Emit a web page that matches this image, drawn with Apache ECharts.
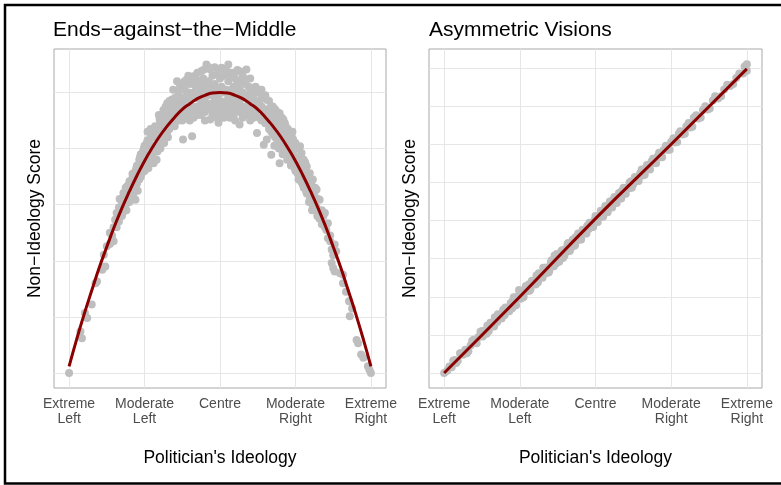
<!DOCTYPE html>
<html>
<head>
<meta charset="utf-8">
<script src="https://cdn.jsdelivr.net/npm/echarts@6/dist/echarts.min.js"></script>
<style>html,body{margin:0;padding:0;background:#fff;}#c{width:781px;height:485px;}</style>
</head>
<body>
<div id="c"></div>
<script>
const panelTitles = ['Ends\u2212against\u2212the\u2212Middle', 'Asymmetric Visions'];
const xAxisName = "Politician's Ideology";
const yAxisName = 'Non\u2212Ideology Score';
const tickValues = [-2, -1, 0, 1, 2];
const tickLabels = ['Extreme\nLeft', 'Moderate\nLeft', 'Centre', 'Moderate\nRight', 'Extreme\nRight'];
const leftGridY = [0, 1, 2, 3, 4, 5];
const rightGridY = [0, 1, 2, 3, 4, 5, 6, 7, 8];

const leftPoints = [
[-2.0,0.0],[-1.85,0.74],[-1.83,0.62],[-1.79,1.07],[-1.76,0.98],[-1.7,1.22],[-1.65,1.6],[-1.63,1.63],[-1.56,1.84],[-1.54,2.11],[-1.52,1.9],[-1.5,2.26],[-1.46,2.5],[-1.46,2.3],[-1.43,2.45],[-1.41,2.35],[-1.41,2.6],[-1.39,2.73],[-1.37,2.85],[-1.37,2.6],[-1.34,2.7],[-1.34,2.95],[-1.32,2.95],[-1.3,3.05],[-1.3,2.8],[-1.28,3.21],[-1.28,3.0],[-1.27,3.2],[-1.25,3.3],[-1.25,3.0],[-1.23,3.33],[-1.22,3.1],[-1.2,3.42],[-1.2,3.2],[-1.2,3.05],[-1.17,3.45],[-1.17,3.25],[-1.15,3.15],[-1.15,3.5],[-1.15,3.35],[-1.12,3.09],[-1.12,3.6],[-1.12,3.4],[-1.1,3.56],[-1.1,3.7],[-1.1,3.38],[-1.07,3.62],[-1.07,3.8],[-1.07,3.45],[-1.05,3.5],[-1.05,3.75],[-1.05,3.9],[-1.02,3.6],[-1.02,3.85],[-1.02,3.95],[-1.0,3.74],[-1.0,3.6],[-1.0,3.95],[-1.0,4.05],[-0.97,3.86],[-0.97,3.7],[-0.97,4.1],[-0.96,4.3],[-0.95,4.04],[-0.95,3.8],[-0.95,3.65],[-0.93,4.16],[-0.93,3.85],[-0.92,4.35],[-0.9,3.9],[-0.9,4.2],[-0.9,4.05],[-0.88,3.74],[-0.88,4.25],[-0.88,4.0],[-0.85,4.3],[-0.85,4.05],[-0.85,4.2],[-0.84,3.8],[-0.84,4.34],[-0.82,4.4],[-0.82,4.1],[-0.82,4.25],[-0.8,4.52],[-0.8,4.3],[-0.8,4.05],[-0.78,4.45],[-0.78,4.2],[-0.78,4.35],[-0.75,4.69],[-0.75,4.4],[-0.75,4.15],[-0.75,4.55],[-0.72,4.6],[-0.72,4.25],[-0.72,4.45],[-0.72,4.75],[-0.7,4.81],[-0.7,4.5],[-0.7,4.3],[-0.67,4.7],[-0.67,4.35],[-0.67,4.55],[-0.67,4.85],[-0.64,4.87],[-0.64,4.6],[-0.64,4.4],[-0.62,5.05],[-0.62,4.75],[-0.62,4.45],[-0.6,4.9],[-0.6,4.65],[-0.6,4.4],[-0.57,5.2],[-0.57,4.85],[-0.57,4.55],[-0.57,4.7],[-0.55,5.0],[-0.55,4.75],[-0.55,4.5],[-0.53,5.11],[-0.53,4.8],[-0.53,4.6],[-0.5,5.15],[-0.5,4.9],[-0.5,4.65],[-0.5,4.5],[-0.49,4.16],[-0.47,5.05],[-0.47,4.8],[-0.47,4.6],[-0.47,5.2],[-0.44,5.23],[-0.44,4.95],[-0.44,4.7],[-0.44,4.55],[-0.42,5.0],[-0.42,4.85],[-0.42,4.6],[-0.42,5.3],[-0.4,5.15],[-0.4,4.9],[-0.4,4.65],[-0.4,4.5],[-0.37,4.22],[-0.37,5.2],[-0.37,4.95],[-0.37,4.75],[-0.35,5.29],[-0.35,5.0],[-0.35,4.7],[-0.35,4.55],[-0.32,5.1],[-0.32,4.9],[-0.32,4.65],[-0.32,5.25],[-0.3,5.35],[-0.3,5.0],[-0.3,4.75],[-0.3,4.6],[-0.27,5.2],[-0.27,4.95],[-0.27,4.7],[-0.25,5.38],[-0.25,5.1],[-0.25,4.85],[-0.25,4.6],[-0.22,5.25],[-0.22,5.0],[-0.22,4.8],[-0.22,5.4],[-0.2,5.15],[-0.2,4.9],[-0.2,4.65],[-0.2,4.5],[-0.18,5.5],[-0.18,5.05],[-0.18,4.75],[-0.15,5.45],[-0.15,5.2],[-0.15,4.95],[-0.15,4.7],[-0.13,5.41],[-0.13,4.52],[-0.13,5.1],[-0.13,4.8],[-0.1,5.3],[-0.1,5.0],[-0.1,4.75],[-0.1,4.6],[-0.07,5.45],[-0.07,5.15],[-0.07,4.9],[-0.07,4.65],[-0.04,5.32],[-0.04,5.05],[-0.04,4.8],[-0.04,4.55],[-0.02,4.46],[-0.02,5.4],[-0.02,4.95],[0.0,5.25],[0.0,5.0],[0.0,4.7],[0.0,4.85],[0.02,5.44],[0.02,5.1],[0.02,4.8],[0.02,4.6],[0.05,5.3],[0.05,5.0],[0.05,4.75],[0.05,4.55],[0.08,5.4],[0.08,5.05],[0.08,4.85],[0.08,4.65],[0.11,5.5],[0.11,5.2],[0.11,4.95],[0.11,4.7],[0.13,5.3],[0.13,5.0],[0.13,4.8],[0.13,4.55],[0.15,5.35],[0.15,5.05],[0.15,4.9],[0.15,4.65],[0.18,5.35],[0.18,5.1],[0.18,4.85],[0.18,4.6],[0.2,5.25],[0.2,5.0],[0.2,4.75],[0.2,4.5],[0.23,5.4],[0.23,5.15],[0.23,4.9],[0.23,4.7],[0.26,5.38],[0.26,5.05],[0.26,4.8],[0.26,4.43],[0.26,4.65],[0.28,5.2],[0.28,4.95],[0.28,4.75],[0.3,5.3],[0.3,5.0],[0.3,4.7],[0.3,4.55],[0.33,5.15],[0.33,4.9],[0.33,4.65],[0.35,5.41],[0.35,5.23],[0.35,4.95],[0.35,4.75],[0.35,4.6],[0.38,5.1],[0.38,4.85],[0.38,4.6],[0.4,5.25],[0.4,5.0],[0.4,4.7],[0.4,4.5],[0.42,5.05],[0.42,4.8],[0.42,4.6],[0.44,5.05],[0.44,4.75],[0.44,4.9],[0.44,4.55],[0.47,5.1],[0.47,4.85],[0.47,4.6],[0.49,4.28],[0.49,5.0],[0.49,4.7],[0.52,5.05],[0.52,4.8],[0.52,4.55],[0.55,5.05],[0.55,4.75],[0.55,4.5],[0.55,4.9],[0.58,4.07],[0.58,4.9],[0.58,4.65],[0.6,4.95],[0.6,4.7],[0.6,4.45],[0.62,4.87],[0.62,4.16],[0.62,4.6],[0.65,4.85],[0.65,4.55],[0.65,4.35],[0.65,4.7],[0.68,3.89],[0.68,4.75],[0.68,4.5],[0.68,4.3],[0.7,4.75],[0.7,4.5],[0.7,4.25],[0.73,4.7],[0.73,4.45],[0.73,4.2],[0.76,4.65],[0.76,4.4],[0.76,4.15],[0.79,4.63],[0.79,3.74],[0.79,4.35],[0.79,4.1],[0.82,4.55],[0.82,4.3],[0.82,4.05],[0.84,4.52],[0.84,4.25],[0.84,4.0],[0.87,4.4],[0.87,4.15],[0.87,3.95],[0.9,4.35],[0.9,4.1],[0.9,3.9],[0.93,4.28],[0.93,4.05],[0.93,3.85],[0.95,4.2],[0.95,3.95],[0.95,3.75],[0.97,4.16],[0.97,3.9],[0.97,3.7],[1.0,4.1],[1.0,3.85],[1.0,3.6],[1.03,4.0],[1.03,3.75],[1.03,3.55],[1.06,4.04],[1.06,3.7],[1.06,3.45],[1.08,3.92],[1.08,3.6],[1.08,3.4],[1.11,3.8],[1.11,3.5],[1.11,3.3],[1.13,3.75],[1.13,3.45],[1.15,3.68],[1.15,3.4],[1.15,3.2],[1.17,3.55],[1.17,3.3],[1.19,3.56],[1.19,3.25],[1.19,3.1],[1.21,3.4],[1.21,3.2],[1.23,3.45],[1.23,3.1],[1.23,2.95],[1.26,3.3],[1.26,3.05],[1.28,3.27],[1.28,2.95],[1.3,3.1],[1.3,2.85],[1.32,3.09],[1.32,2.75],[1.35,2.9],[1.35,2.65],[1.37,2.8],[1.39,2.85],[1.39,2.6],[1.41,2.55],[1.43,2.67],[1.43,2.4],[1.46,2.35],[1.46,2.45],[1.48,1.96],[1.48,2.2],[1.5,1.87],[1.5,2.1],[1.52,1.81],[1.52,2.29],[1.54,2.17],[1.59,1.78],[1.63,1.75],[1.63,1.6],[1.67,1.45],[1.71,1.28],[1.72,1.01],[1.75,1.15],[1.81,0.59],[1.83,0.53],[1.87,0.33],[1.9,0.27],[1.96,0.12],[1.98,0.06],[2.0,0.0],
[-1.33,3.1],[-1.29,2.85],[-1.26,3.15],[-1.24,2.9],[-1.21,3.35],[-1.18,3.1],[-1.16,3.55],[-1.13,3.3],[-1.11,3.65],[-1.09,3.25],[-1.06,3.85],[-1.04,3.55],[-1.01,4.0],[-0.99,3.7],[-0.96,4.15],[-0.94,3.75],[-0.91,4.25],[-0.89,3.85],[-0.86,4.4],[-0.83,3.95],[-0.81,4.6],[-0.79,4.0],[-0.77,4.6],[-0.74,4.1],[-0.71,4.65],[-0.69,4.2],
[0.69,4.6],[0.72,4.05],[0.75,4.55],[0.78,4.0],[0.81,4.45],[0.83,3.9],[0.86,4.45],[0.89,3.8],[0.91,4.25],[0.94,3.7],[0.96,4.3],[0.99,3.65],[1.01,4.0],[1.04,3.45],[1.07,3.85],[1.1,3.35],[1.12,3.7],[1.14,3.25],[1.16,3.5],[1.18,3.05],[1.2,3.35],[1.22,2.9],[1.25,3.2],[1.27,3.1],[1.29,2.8]
];

const leftFit = [
[-2.0,0.12],[-1.9,0.6],[-1.8,1.05],[-1.7,1.47],[-1.6,1.88],[-1.5,2.25],[-1.4,2.61],[-1.3,2.94],[-1.2,3.24],[-1.1,3.52],[-1.0,3.78],[-0.9,4.01],[-0.8,4.22],[-0.7,4.4],[-0.6,4.56],[-0.5,4.7],[-0.4,4.8],[-0.3,4.89],[-0.2,4.95],[-0.1,4.99],[0.0,5.0],[0.1,4.99],[0.2,4.95],[0.3,4.89],[0.4,4.8],[0.5,4.7],[0.6,4.56],[0.7,4.4],[0.8,4.22],[0.9,4.01],[1.0,3.78],[1.1,3.52],[1.2,3.24],[1.3,2.94],[1.4,2.61],[1.5,2.25],[1.6,1.88],[1.7,1.47],[1.8,1.05],[1.9,0.6],[2.0,0.12]
];

const rightPoints = [
[-2.0,0.0],[-1.93,0.17],[-1.9,0.15],[-1.86,0.34],[-1.82,0.32],[-1.79,0.52],[-1.75,0.48],[-1.72,0.61],[-1.68,0.57],[-1.65,0.72],[-1.61,0.87],[-1.58,0.79],[-1.55,0.94],[-1.52,1.08],[-1.49,0.96],[-1.46,1.11],[-1.43,1.24],[-1.41,1.1],[-1.38,1.29],[-1.35,1.27],[-1.33,1.46],[-1.3,1.34],[-1.28,1.51],[-1.25,1.48],[-1.22,1.66],[-1.2,1.52],[-1.17,1.7],[-1.15,1.65],[-1.12,1.84],[-1.1,1.7],[-1.08,1.99],[-1.06,1.85],[-1.03,2.0],[-1.01,2.18],[-0.99,1.95],[-0.97,2.16],[-0.95,2.0],[-0.93,2.18],[-0.9,2.15],[-0.88,2.33],[-0.86,2.2],[-0.83,2.39],[-0.81,2.34],[-0.78,2.56],[-0.76,2.38],[-0.73,2.6],[-0.71,2.55],[-0.69,2.76],[-0.66,2.61],[-0.64,2.77],[-0.61,2.68],[-0.59,2.9],[-0.57,2.82],[-0.54,3.08],[-0.52,2.87],[-0.5,3.04],[-0.47,3.0],[-0.45,3.2],[-0.43,3.02],[-0.4,3.25],[-0.38,3.19],[-0.36,3.41],[-0.33,3.26],[-0.31,3.42],[-0.28,3.34],[-0.26,3.57],[-0.24,3.49],[-0.21,3.64],[-0.19,3.5],[-0.16,3.71],[-0.14,3.66],[-0.11,3.86],[-0.09,3.78],[-0.06,3.93],[-0.04,3.83],[-0.01,4.02],[0.02,3.99],[0.05,4.13],[0.08,4.14],[0.11,4.28],[0.14,4.22],[0.17,4.38],[0.2,4.37],[0.23,4.53],[0.26,4.47],[0.29,4.63],[0.32,4.6],[0.35,4.78],[0.38,4.7],[0.41,4.86],[0.44,4.85],[0.47,5.03],[0.5,4.95],[0.53,5.11],[0.56,5.08],[0.59,5.24],[0.62,5.18],[0.66,5.37],[0.7,5.36],[0.74,5.55],[0.78,5.51],[0.82,5.68],[0.86,5.66],[0.9,5.85],[0.95,5.86],[1.0,6.06],[1.05,6.05],[1.1,6.28],[1.15,6.26],[1.2,6.47],[1.25,6.44],[1.3,6.7],[1.36,6.68],[1.42,6.9],[1.48,6.91],[1.55,7.15],[1.62,7.2],[1.7,7.44],[1.78,7.53],[1.86,7.74],[1.95,7.86],[2.0,7.93],[2.0,8.1],
[-1.96,0.06],[-1.88,0.32],[-1.84,0.26],[-1.77,0.52],[-1.7,0.52],[-1.63,0.84],[-1.57,0.78],[-1.5,1.1],[-1.44,1.03],[-1.39,1.32],[-1.34,1.22],[-1.29,1.54],[-1.24,1.43],[-1.19,1.72],[-1.14,1.62],[-1.09,1.9],[-1.05,1.78],[-1.0,2.1],[-0.96,1.98],[-0.92,2.28],[-0.87,2.16],[-0.84,2.42],[-0.79,2.32],[-0.75,2.62],[-0.7,2.5],[-0.67,2.76],[-0.62,2.64],[-0.58,2.96],[-0.55,2.8],[-0.51,3.12],[-0.48,2.92],[-0.44,3.22],[-0.41,3.08],[-0.37,3.38],[-0.34,3.2],[-0.3,3.5],[-0.27,3.36],[-0.23,3.66],[-0.2,3.5],[-0.17,3.76],[-0.12,3.66],[-0.08,3.94],[-0.03,3.84],[0.0,4.12],[0.03,3.96],[0.07,4.26],[0.1,4.1],[0.13,4.38],[0.16,4.22],[0.19,4.5],[0.22,4.34],[0.25,4.62],[0.28,4.46],[0.31,4.72],[0.34,4.58],[0.37,4.86],[0.4,4.7],[0.45,5.0],[0.48,4.86],[0.52,5.14],[0.57,5.04],[0.61,5.34],[0.65,5.2],[0.68,5.46],[0.72,5.34],[0.76,5.62],[0.8,5.5],[0.84,5.78],[0.88,5.66],[0.93,5.96],[0.98,5.86],[1.03,6.16],[1.08,6.06],[1.12,6.34],[1.18,6.28],[1.23,6.56],[1.28,6.46],[1.33,6.76],[1.39,6.7],[1.45,7.0],[1.51,6.94],[1.58,7.26],[1.66,7.26],[1.74,7.56],[1.82,7.58],[1.9,7.86],[1.97,8.04]
];

const rightFit = [[-2.0,0.0],[-1.0,2.0],[0.0,4.05],[1.0,6.0],[2.0,7.98]];

const FONT = '"Liberation Sans", Arial, Helvetica, sans-serif';
const chart = echarts.init(document.getElementById('c'), null, {renderer: 'canvas'});

function gridLines(yVals) {
  return tickValues.map(v => ({xAxis: v})).concat(yVals.map(v => ({yAxis: v})));
}
function xAxisCfg(i) {
  return {
    gridIndex: i, type: 'value', min: -2.2, max: 2.2,
    axisLine: {show: false}, axisTick: {show: false}, splitLine: {show: false},
    axisLabel: {
      customValues: tickValues,
      formatter: v => { const k = tickValues.indexOf(v); return k >= 0 ? tickLabels[k] : ''; },
      fontSize: 14, lineHeight: 15, color: '#4d4d4d', margin: 9, fontFamily: FONT
    },
    name: xAxisName, nameLocation: 'middle', nameGap: 61,
    nameTextStyle: {fontSize: 17.5, color: '#000', fontFamily: FONT}
  };
}
function yAxisCfg(i, mn, mx) {
  return {
    gridIndex: i, type: 'value', min: mn, max: mx,
    axisLine: {show: false}, axisTick: {show: false}, axisLabel: {show: false}, splitLine: {show: false},
    name: yAxisName, nameLocation: 'middle', nameGap: 10,
    nameTextStyle: {fontSize: 17.5, color: '#000', fontFamily: FONT}
  };
}
function gridSeries(i, yVals) {
  return {
    type: 'scatter', xAxisIndex: i, yAxisIndex: i, data: [], z: 0, silent: true,
    markLine: {
      z: 0, silent: true, symbol: ['none', 'none'], animation: false,
      label: {show: false},
      lineStyle: {color: '#e6e6e6', width: 1, type: 'solid'},
      emphasis: {disabled: true},
      data: gridLines(yVals)
    }
  };
}
function pointSeries(i, data) {
  return {
    type: 'scatter', xAxisIndex: i, yAxisIndex: i, data: data, z: 2,
    symbol: 'circle', symbolSize: 8, silent: true,
    itemStyle: {color: '#bebebe', opacity: 1}
  };
}
function fitSeries(i, data) {
  return {
    type: 'line', xAxisIndex: i, yAxisIndex: i, data: data, z: 3,
    smooth: true, showSymbol: false, symbol: 'none', silent: true,
    lineStyle: {color: '#8b0000', width: 3}
  };
}

chart.setOption({
  backgroundColor: '#ffffff',
  animation: false,
  textStyle: {fontFamily: FONT},
  title: [
    {text: panelTitles[0], left: 53, top: 19.5, padding: 0,
     textStyle: {fontSize: 21, fontWeight: 'normal', color: '#000', fontFamily: FONT}},
    {text: panelTitles[1], left: 429, top: 19.5, padding: 0,
     textStyle: {fontSize: 21, fontWeight: 'normal', color: '#000', fontFamily: FONT}}
  ],
  grid: [
    {left: 54, top: 49, width: 332, height: 339, show: true, borderColor: '#a8a8a8', borderWidth: 1, backgroundColor: 'transparent'},
    {left: 429, top: 49, width: 333, height: 339, show: true, borderColor: '#a8a8a8', borderWidth: 1, backgroundColor: 'transparent'}
  ],
  xAxis: [xAxisCfg(0), xAxisCfg(1)],
  yAxis: [yAxisCfg(0, -0.267, 5.775), yAxisCfg(1, -0.393, 8.5)],
  series: [
    gridSeries(0, leftGridY), pointSeries(0, leftPoints), fitSeries(0, leftFit),
    gridSeries(1, rightGridY), pointSeries(1, rightPoints), fitSeries(1, rightFit)
  ],
  graphic: [{
    type: 'rect', silent: true, z: 100,
    shape: {x: 5, y: 5, width: 820, height: 478.5},
    style: {fill: 'none', stroke: '#000', lineWidth: 2.5}
  }]
});
</script>
</body>
</html>
